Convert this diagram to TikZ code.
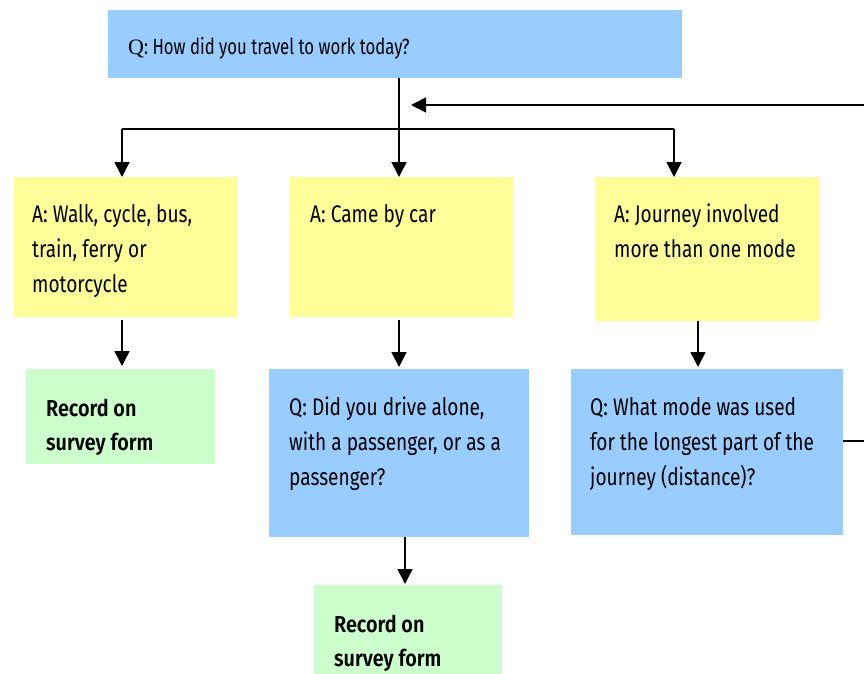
\documentclass[tikz,border=0pt]{standalone}
\usepackage{fontspec}
\setmainfont{Fira Sans}[FakeStretch=0.795]
\newfontfamily\topfont{Fira Sans}[FakeStretch=0.76]
\newfontfamily\boldfont{Fira Sans SemiBold}[FakeStretch=0.86]
\newfontfamily\qfont{Liberation Serif}
\usetikzlibrary{arrows.meta}
\definecolor{qblue}{HTML}{99CCFF}
\definecolor{ayellow}{HTML}{FFFF99}
\definecolor{rgreen}{HTML}{CCFFCC}
\begin{document}
\begin{tikzpicture}[x=1pt,y=-1pt,
  box/.style={draw=none, inner sep=0pt, outer sep=0pt, anchor=north west},
  qbox/.style={box, fill=qblue},
  abox/.style={box, fill=ayellow},
  rbox/.style={box, fill=rgreen},
  txt/.style={anchor=north west, inner sep=0pt, align=left, font=\fontsize{24}{35}\selectfont},
  toptxt/.style={txt, font=\fontsize{22}{35}\topfont},
  btxt/.style={txt, font=\fontsize{23}{34}\boldfont},
  ln/.style={line width=1.5pt},
  arr/.style={line width=1.5pt, -{Triangle[width=15pt,length=15pt]}}]
\useasboundingbox (0,0) rectangle (864,674);
% boxes
\node[qbox, minimum width=574pt, minimum height=68pt] (q1) at (108,10) {};
\node[abox, minimum width=223pt, minimum height=140pt] (a1) at (14,177) {};
\node[abox, minimum width=223pt, minimum height=140pt] (a2) at (290,177) {};
\node[abox, minimum width=224pt, minimum height=144pt] (a3) at (595,177) {};
\node[rbox, minimum width=189pt, minimum height=95pt] (g1) at (26,369) {};
\node[qbox, minimum width=260pt, minimum height=168pt] (b2) at (269,369) {};
\node[qbox, minimum width=272pt, minimum height=166pt] (b3) at (571,369) {};
\node[rbox, minimum width=188pt, minimum height=95pt] (g2) at (314,585) {};
% texts
\node[toptxt] (tq1) at (128,37) {{\qfont Q}: How did you travel to work today?};
\node[txt] (ta1) at (32,204) {A: Walk, cycle, bus,\\train, ferry or\\motorcycle};
\node[txt] (ta2) at (310,204) {A: Came by car};
\node[txt] (ta3) at (614,204) {A: Journey involved\\more than one mode};
\node[btxt] (tg1) at (46,399) {Record on\\survey form};
\node[txt] (tb2) at (289,397) {Q: Did you drive alone,\\with a passenger, or as a\\passenger?};
\node[txt] (tb3) at (590,397) {Q: What mode was used\\for the longest part of the\\journey (distance)?};
\node[btxt] (tg2) at (334,615) {Record on\\survey form};
% connectors
\coordinate (j1) at (122,129);
\coordinate (j2) at (399,129);
\coordinate (j3) at (674,129);
\coordinate (c2) at (405,0);
\coordinate (c3) at (698,0);
\coordinate (r1) at (864,105);
\coordinate (rt) at (411,105);
\coordinate (r2) at (864,441);
\draw[arr] (j2 |- q1.south) -- (j2 |- a2.north);
\draw[ln] (j1) -- (j3);
\draw[arr] (j1) -- (j1 |- a1.north);
\draw[arr] (j3) -- (j3 |- a3.north);
\draw[arr, shorten <=3pt, shorten >=3pt] (j1 |- a1.south) -- (j1 |- g1.north);
\draw[arr, shorten <=3pt, shorten >=2pt] (j2 |- a2.south) -- (j2 |- b2.north);
\draw[arr, shorten >=1pt] (c2 |- b2.south) -- (c2 |- g2.north);
\draw[arr, shorten >=2pt] (c3 |- a3.south) -- (c3 |- b3.north);
\draw[ln] (b3.east |- r2) -- (r2);
\draw[arr] (r1) -- (rt);
\end{tikzpicture}
\end{document}
